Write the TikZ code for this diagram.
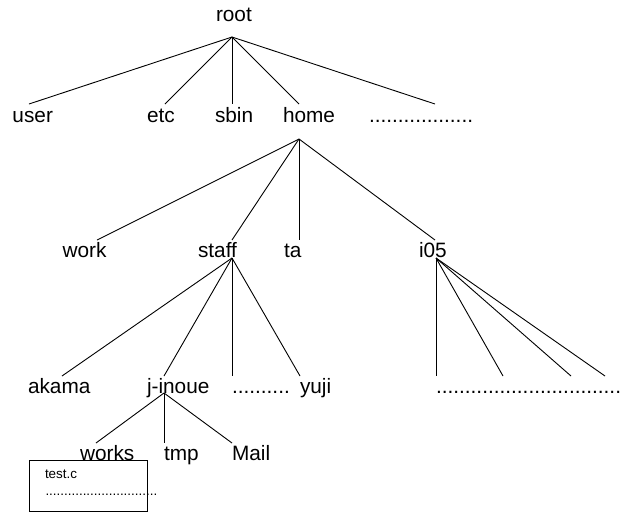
\documentclass[tikz,border=0pt]{standalone}
\usepackage{fontspec}
\setmainfont{Liberation Sans}
\tikzset{
  lab/.style={anchor=base west,inner sep=0pt,outer sep=0pt,font=\fontsize{20.8}{24}\selectfont},
  small/.style={anchor=base west,inner sep=0pt,outer sep=0pt,font=\fontsize{13.4}{16}\selectfont},
  edge/.style={draw=black,line width=0.9pt},
  filebox/.style={draw=black,line width=0.9pt,minimum width=118pt,minimum height=50.5pt,inner sep=0pt,anchor=north west}
}
\begin{document}
\begin{tikzpicture}[x=1pt,y=-1pt]
\useasboundingbox (0,0) rectangle (620,512);
% labels
\node[lab] (root) at (216,21) {root};
\node[lab] (user) at (12.5,122) {user};
\node[lab] (etc) at (147,122) {etc};
\node[lab] (sbin) at (215,122) {sbin};
\node[lab] (home) at (283,122) {home};
\node[lab] (dotsa) at (369,122) {..................};
\node[lab] (work) at (62.5,257) {work};
\node[lab] (staff) at (198,257) {staff};
\node[lab] (ta) at (284,257) {ta};
\node[lab] (i05) at (419,257) {i05};
\node[lab] (akama) at (28,393) {akama};
\node[lab] (jinoue) at (147,393) {j-inoue};
\node[lab] (dotsb) at (232,393) {..........};
\node[lab] (yuji) at (300,393) {yuji};
\node[lab] (dotsc) at (436,393) {................................};
\node[lab] (works) at (80,460) {works};
\node[lab] (tmp) at (164,460) {tmp};
\node[lab] (mail) at (232,460) {Mail};
\node[filebox] (box) at (29,460.2) {};
\node[small] (testc) at (45,478) {test.c};
\node[small] (dotsd) at (45.5,495) {..............................};
% connector ends
\coordinate (a0) at (232,37);
\coordinate (a1) at (29,104);
\coordinate (a2) at (165,104);
\coordinate (a3) at (232,104);
\coordinate (a4) at (299,104);
\coordinate (a5) at (435,104);
\coordinate (b0) at (299,139);
\coordinate (b1) at (97,240);
\coordinate (b2) at (232,240);
\coordinate (b3) at (299,240);
\coordinate (b4) at (435,240);
\coordinate (c0) at (232,258);
\coordinate (c1) at (62,376);
\coordinate (c2) at (164,376);
\coordinate (c3) at (232,376);
\coordinate (c4) at (300,376);
\coordinate (d0) at (436,258);
\coordinate (d1) at (436,376);
\coordinate (d2) at (503,376);
\coordinate (d3) at (571,376);
\coordinate (d4) at (605,376);
\coordinate (e0) at (164,393);
\coordinate (e1) at (96,443);
\coordinate (e2) at (164,443);
\coordinate (e3) at (232,443);
\foreach \s/\e in {a0/a1,a0/a2,a0/a3,a0/a4,a0/a5,b0/b1,b0/b2,b0/b3,b0/b4,c0/c1,c0/c2,c0/c3,c0/c4,d0/d1,d0/d2,d0/d3,d0/d4,e0/e1,e0/e2,e0/e3}
  \draw[edge] (\s) -- (\e);
\end{tikzpicture}
\end{document}
